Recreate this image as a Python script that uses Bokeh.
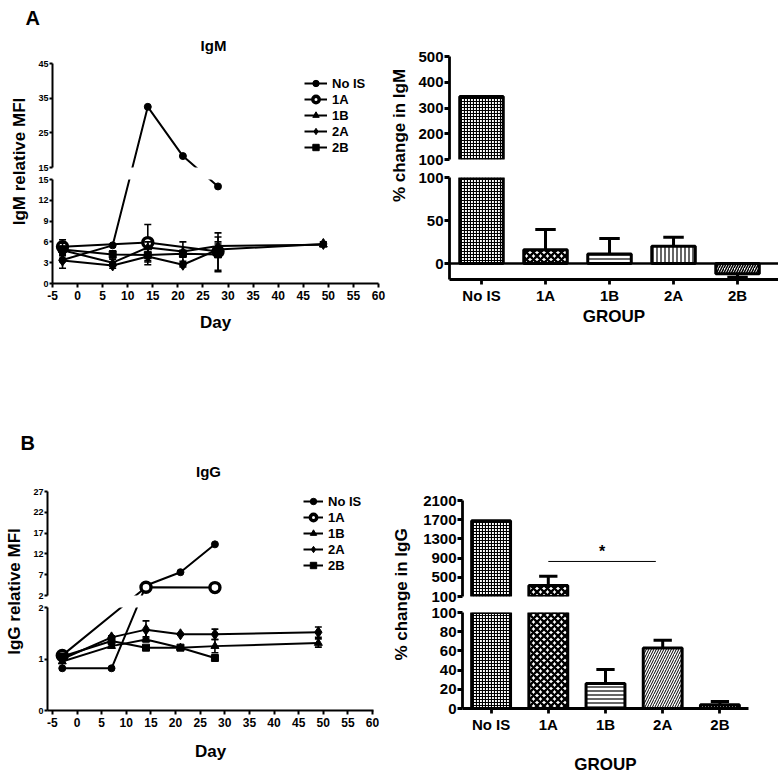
import math
from bokeh.plotting import figure
from bokeh.layouts import row, column
from bokeh.models import Range1d, FixedTicker, Legend, LegendItem, Span, Spacer
from bokeh.embed import file_html
from bokeh.resources import INLINE
from bokeh.core.properties import value

FONT = "Liberation Sans"

# ---------------- data ----------------
days = [-3, 7, 14, 21, 28, 49]
series_names = ["No IS", "1A", "1B", "2A", "2B"]

# IgM relative MFI (None = not measured)
igm_noIS = [3.4, 5.5, 32.5, 18.3, 14.0, None]
igm_1A = [5.3, None, 5.9, None, 4.6, None]
igm_1B = [4.8, 3.0, 5.2, 4.6, 5.4, 5.6]
igm_2A = [3.3, 2.6, 3.9, 2.7, 4.9, 5.7]
igm_2B = [4.9, 4.2, 4.1, 4.3, 4.2, None]
igm_sem_noIS = [0, 0, 0, 0, 0, None]
igm_sem_1A = [1.0, None, 2.6, None, 2.7, None]
igm_sem_1B = [0.6, 0.5, 0.8, 1.4, 0.6, 0.3]
igm_sem_2A = [1.1, 0.4, 1.2, 0.3, 0.8, 0.3]
igm_sem_2B = [0.9, 0.5, 1.0, 0.5, 2.5, None]

# IgG relative MFI
igg_noIS = [0.82, 0.82, 4.4, 7.6, 14.3, None]
igg_1A = [1.07, None, 4.0, None, 3.9, None]
igg_1B = [0.95, 1.25, 1.38, 1.22, 1.25, 1.31]
igg_2A = [1.0, 1.42, 1.57, 1.48, 1.48, 1.52]
igg_2B = [1.05, 1.35, 1.22, 1.22, 1.02, None]
igg_sem_noIS = [0, 0, 0, 0, 0, None]
igg_sem_1A = [0, None, 0, None, 0, None]
igg_sem_1B = [0.03, 0.03, 0.05, 0.03, 0.13, 0.08]
igg_sem_2A = [0.03, 0.03, 0.17, 0.02, 0.10, 0.10]
igg_sem_2B = [0.03, 0.03, 0.03, 0.04, 0.03, None]

# % change per group
groups = ["No IS", "1A", "1B", "2A", "2B"]
igm_pct = [345, 16, 11, 20, -12]
igm_pct_sem = [None, 23.5, 18, 10.6, 4]
igg_pct = [1680, 330, 26, 63, 4]
igg_pct_sem = [None, 190, 14.5, 8, 3.3]

# axis ticks / ranges
day_ticks = list(range(-5, 61, 5))
igm_lo_ticks = [0, 3, 6, 9, 12, 15]
igm_up_ticks = [15, 25, 35, 45]
igg_lo_ticks = [0, 1, 2]
igg_up_ticks = [2, 7, 12, 17, 22, 27]
igm_pct_lo_ticks = [0, 50, 100]
igm_pct_up_ticks = [100, 200, 300, 400, 500]
igg_pct_lo_ticks = [0, 20, 40, 60, 80, 100]
igg_pct_up_ticks = [100, 500, 900, 1300, 1700, 2100]

# ---------------- style ----------------
MARK = {
    "No IS": dict(marker="circle", size=7, fill_color="black", line_width=1),
    "1A": dict(marker="circle", size=10, fill_color="white", line_width=3.4),
    "1B": dict(marker="triangle", size=8, fill_color="black", line_width=1),
    "2A": dict(marker="diamond", size=11, fill_color="black", line_width=1),
    "2B": dict(marker="square", size=7, fill_color="black", line_width=1),
}
HATCH = {
    "igm": [("+", 3.0, 1.2), ("x", 7, 2.4), ("-", 4, 1.2), ("|", 4, 1.2), ("/", 5, 1.5)],
    "igg": [("+", 3.0, 1.2), ("x", 7, 2.4), ("-", 4, 1.2), ("/", 5, 1.0), ("/", 3, 2)],
}


class Brk:
    """Maps values of a broken axis into the coordinates of one segment."""

    def __init__(self, lo, up, hL, hU, gap):
        self.lo, self.up, self.hL, self.hU, self.gap = lo, up, hL, hU, gap

    def pos(self, v):
        (a, b), (c, d) = self.lo, self.up
        if v <= b:
            return (v - a) / (b - a) * self.hL
        return self.hL + self.gap + (v - c) / (d - c) * self.hU

    def to(self, v, seg):
        (a, b), (c, d) = self.lo, self.up
        p = self.pos(v)
        if seg == "lo":
            return a + p / self.hL * (b - a)
        return c + (p - self.hL - self.gap) / self.hU * (d - c)


def base_fig(w, h, xr, yr, mb, with_x, with_y=True):
    p = figure(width=w, height=h, x_range=Range1d(*xr), y_range=Range1d(*yr),
               output_backend="svg", toolbar_location=None,
               x_axis_location="below" if with_x else None,
               y_axis_location="left" if with_y else None,
               min_border_left=mb[0], min_border_right=mb[1],
               min_border_top=mb[2], min_border_bottom=mb[3])
    p.grid.visible = False
    p.outline_line_color = None
    return p


def style_axis(ax, font_size, lw, tick_out, standoff):
    ax.axis_line_width = lw
    ax.axis_line_color = "black"
    ax.major_tick_line_width = lw
    ax.major_tick_line_color = "black"
    ax.major_tick_in = 0
    ax.major_tick_out = tick_out
    ax.minor_tick_line_color = None
    ax.major_label_text_font = FONT
    ax.major_label_text_font_style = "bold"
    ax.major_label_text_font_size = font_size
    ax.major_label_text_color = "black"
    ax.major_label_standoff = standoff
    ax.axis_label_text_font = FONT
    ax.axis_label_text_font_style = "bold"
    ax.axis_label_text_color = "black"


def text_fig(w, h, items):
    p = figure(width=w, height=h, x_range=Range1d(0, w), y_range=Range1d(0, h),
               output_backend="svg", toolbar_location=None,
               x_axis_location=None, y_axis_location=None, min_border=0)
    p.grid.visible = False
    p.outline_line_color = None
    for (x, y, t, size, align, angle) in items:
        p.text(x=[x], y=[y], text=[t], text_font=value(FONT), text_font_size=value(size),
               text_font_style="bold", text_color="black", text_align=align,
               text_baseline="middle", angle=angle)
    return p


def line_pair(series, sems, lo, up, lo_ticks, up_ticks, xr, geo, legend_loc, glyph_w, xlabel_standoff):
    (w, hu, hl, mbl, mbr, mbt_u, gap_u, gap_l, mbb_l) = geo
    hU = hu - mbt_u - gap_u
    hL = hl - gap_l - mbb_l
    brk = Brk(lo, up, hL, hU, gap_u + gap_l)
    pu = base_fig(w, hu, xr, up, (mbl, mbr, mbt_u, gap_u), False)
    pl = base_fig(w, hl, xr, lo, (mbl, mbr, gap_l, mbb_l), True)
    items = []
    for p, seg in ((pu, "up"), (pl, "lo")):
        for name, vals, sem in zip(series_names, series, sems):
            xs = [d for d, v in zip(days, vals) if v is not None]
            vs = [v for v in vals if v is not None]
            es = [e for e, v in zip(sem, vals) if v is not None]
            ys = [brk.to(v, seg) for v in vs]
            ex = [x for x, e in zip(xs, es) if e]
            e_hi = [brk.to(v + e, seg) for v, e in zip(vs, es) if e]
            e_lo = [brk.to(v - e, seg) for v, e in zip(vs, es) if e]
            cap = 0.7
            if ex:
                p.segment(x0=ex, y0=e_lo, x1=ex, y1=e_hi, line_color="black", line_width=1.6)
                p.segment(x0=[x - cap for x in ex], y0=e_hi, x1=[x + cap for x in ex], y1=e_hi,
                          line_color="black", line_width=1.6)
                p.segment(x0=[x - cap for x in ex], y0=e_lo, x1=[x + cap for x in ex], y1=e_lo,
                          line_color="black", line_width=1.6)
            rl = p.line(xs, ys, line_color="black", line_width=2)
            m = MARK[name]
            rm = p.scatter(xs, ys, marker=m["marker"], size=m["size"], fill_color=m["fill_color"],
                           line_color="black", line_width=m["line_width"])
            if seg == "up":
                items.append(LegendItem(label=name, renderers=[rl, rm]))
    leg = Legend(items=items, location=legend_loc, orientation="vertical",
                 glyph_width=glyph_w, glyph_height=16, label_height=16, label_standoff=5,
                 spacing=0, padding=0, margin=0, border_line_color=None,
                 background_fill_alpha=0, label_text_font=FONT, label_text_font_style="bold",
                 label_text_font_size="13px", label_text_color="black")
    pu.add_layout(leg, "center")
    pu.yaxis.ticker = FixedTicker(ticks=up_ticks)
    pl.yaxis.ticker = FixedTicker(ticks=lo_ticks)
    pl.xaxis.ticker = FixedTicker(ticks=day_ticks)
    pl.xaxis.major_label_overrides = {d: str(d) for d in day_ticks}
    for p in (pu, pl):
        style_axis(p.yaxis[0], "9px", 2, 3, 1)
    style_axis(pl.xaxis[0], "12px", 2, 4, 3)
    pl.xaxis.axis_label = "Day"
    pl.xaxis.axis_label_text_font_size = "17px"
    pl.xaxis.axis_label_standoff = xlabel_standoff
    return pu, pl


def bar_pair(vals, sems, lo, up, lo_ticks, up_ticks, hatch, geo, x_end, zero_line,
             tick_standoff, label_standoff):
    (w, hu, hl, mbl, mbr, mbt_u, gap_u, gap_l, mbb_l) = geo
    xr = (-0.5, x_end)
    pu = base_fig(w, hu, xr, up, (mbl, mbr, mbt_u, gap_u), False)
    pl = base_fig(w, hl, xr, lo, (mbl, mbr, gap_l, mbb_l), True)
    idx = list(range(len(groups)))
    for p, seg in ((pu, "up"), (pl, "lo")):
        for i, v, e in zip(idx, vals, sems):
            pat, sc, wt = hatch[i]
            tip = (v + e if v >= 0 else v - e) if e else v
            if seg == "up" and max(v, tip) <= up[0]:
                continue
            p.vbar(x=[i], top=[v], bottom=[0], width=0.68, fill_color="white",
                   line_color="black", line_width=3, hatch_pattern=pat, hatch_scale=sc,
                   hatch_weight=wt, hatch_color="black")
            if e:
                p.segment(x0=[i], y0=[v], x1=[i], y1=[tip], line_color="black", line_width=3)
                p.segment(x0=[i - 0.16], y0=[tip], x1=[i + 0.16], y1=[tip],
                          line_color="black", line_width=3)
    if zero_line:
        pl.add_layout(Span(location=0, dimension="width", line_color="black", line_width=2.5))
    pu.yaxis.ticker = FixedTicker(ticks=up_ticks)
    pl.yaxis.ticker = FixedTicker(ticks=lo_ticks)
    pl.xaxis.ticker = FixedTicker(ticks=idx)
    pl.xaxis.major_label_overrides = {i: g for i, g in zip(idx, groups)}
    for p in (pu, pl):
        style_axis(p.yaxis[0], "15px", 2.8, 5, 1)
    style_axis(pl.xaxis[0], "15px", 2.8, 5, tick_standoff)
    pl.xaxis.axis_label = "GROUP"
    pl.xaxis.axis_label_text_font_size = "17px"
    pl.xaxis.axis_label_standoff = label_standoff
    return pu, pl


HALF = math.pi / 2

# ---------------- panel A ----------------
upA, loA = line_pair([igm_noIS, igm_1A, igm_1B, igm_2A, igm_2B],
                     [igm_sem_noIS, igm_sem_1A, igm_sem_1B, igm_sem_2A, igm_sem_2B],
                     (0, 15), (15, 45), igm_lo_ticks, igm_up_ticks, (-5, 60),
                     (353, 115, 167, 16, 10, 5, 6, 6, 57), (252, 12), 23, 10)
hdrA = text_fig(388, 58, [(25, 41, "A", "20px", "left", 0),
                          (213, 13, "IgM", "15px", "center", 0)])
ylabA = text_fig(35, 282, [(19, 179, "IgM relative MFI", "17px", "center", HALF)])
leftA = column(hdrA, row(ylabA, column(upA, loA)))

upA2, loA2 = bar_pair(igm_pct, igm_pct_sem, (-18.6, 100), (100, 500),
                      igm_pct_lo_ticks, igm_pct_up_ticks, HATCH["igm"],
                      (364, 168, 172, 35, 0, 56, 9, 9, 61), 4.64, True, 2, 0)
ylabA2 = text_fig(26, 340, [(11, 205, "% change in IgM", "17px", "center", HALF)])
rightA = row(ylabA2, column(upA2, loA2))

# ---------------- panel B ----------------
upB, loB = line_pair([igg_noIS, igg_1A, igg_1B, igg_2A, igg_2B],
                     [igg_sem_noIS, igg_sem_1A, igg_sem_1B, igg_sem_2A, igg_sem_2B],
                     (0, 2), (2, 27), igg_lo_ticks, igg_up_ticks, (-6, 60.2),
                     (358, 115, 176, 16, 15, 5, 6, 6, 67), (256, 22), 20, 12)
hdrB = text_fig(388, 146, [(20, 44, "B", "20px", "left", 0),
                           (208, 15, "IgG", "15px", "center", 0)])
ylabB = text_fig(30, 291, [(14, 186, "IgG relative MFI", "17px", "center", HALF)])
leftB = column(hdrB, row(ylabB, column(upB, loB)))

upB2, loB2 = bar_pair(igg_pct, igg_pct_sem, (0, 100), (100, 2100),
                      igg_pct_lo_ticks, igg_pct_up_ticks, HATCH["igg"],
                      (364, 114, 173, 48, 30, 10, 8, 8, 69), 4.5, False, 2, 19)
# significance bar between 1A and 2A
sig_pair = (1, 3)
sig_level = 830
upB2.segment(x0=[sig_pair[0]], y0=[sig_level], x1=[sig_pair[1] - 0.12], y1=[sig_level],
             line_color="black", line_width=1)
upB2.text(x=[(sig_pair[0] + sig_pair[1] - 0.12) / 2], y=[sig_level + 200], text=["*"],
          text_font=value(FONT), text_font_size=value("16px"), text_font_style="bold",
          text_align="center", text_baseline="middle", text_color="black")
ylabB2 = text_fig(26, 287, [(13, 183, "% change in IgG", "17px", "center", HALF)])
rightB = column(Spacer(width=390, height=150), row(ylabB2, column(upB2, loB2)))

page = column(row(leftA, rightA), row(leftB, rightB))

open("out.html", "w").write(file_html(page, INLINE))
